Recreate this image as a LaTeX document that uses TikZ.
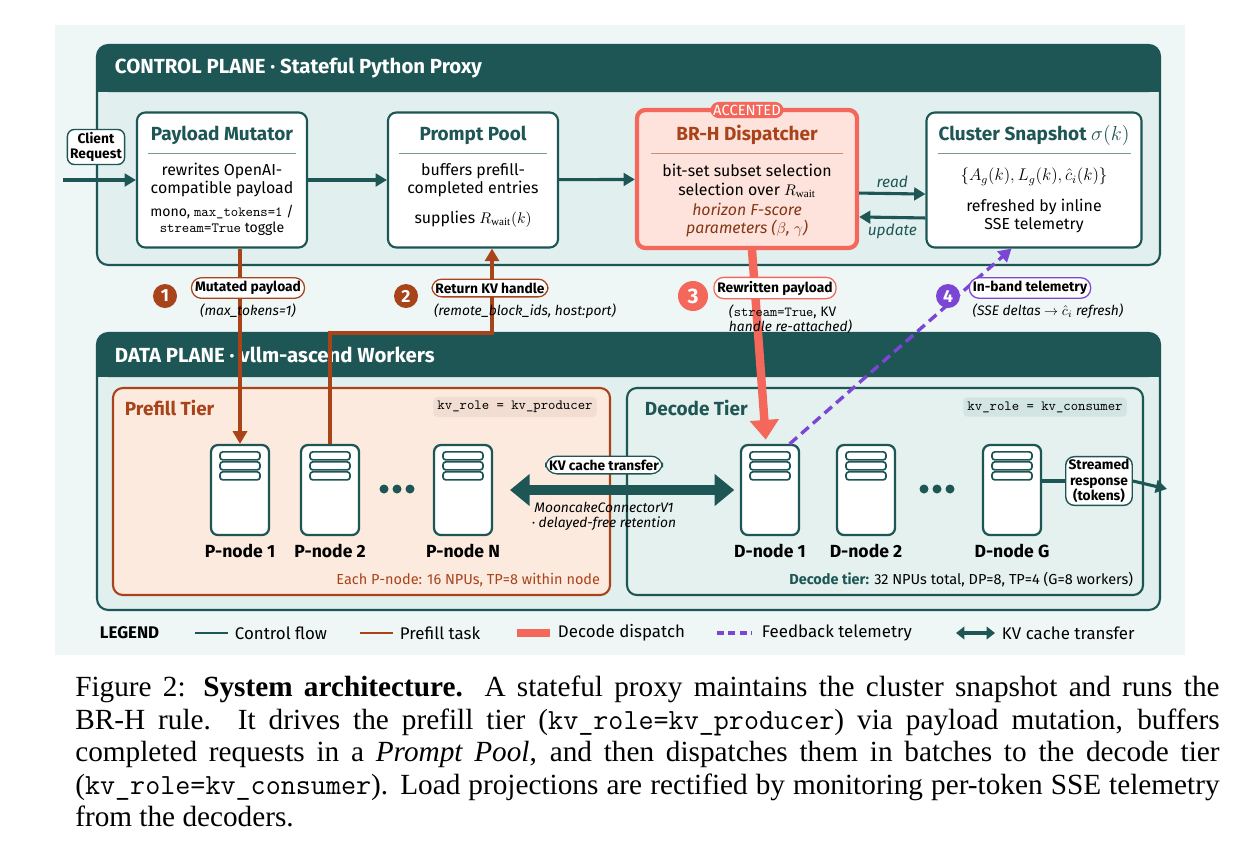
\documentclass[tikz,border=0pt]{standalone}
\usepackage{fontspec}
\setmainfont{Liberation Serif}
\newfontfamily\dsf{Fira Sans}
\usetikzlibrary{arrows.meta,positioning}
\definecolor{ctl}{HTML}{1D5654}
\definecolor{bgl}{HTML}{EFF6F6}
\definecolor{pnl}{HTML}{E1EFEF}
\definecolor{brn}{HTML}{A8431A}
\definecolor{crl}{HTML}{F4675B}
\definecolor{crlf}{HTML}{FDE3DB}
\definecolor{prp}{HTML}{7B45D6}
\definecolor{prf}{HTML}{FCEADF}
\definecolor{dcf}{HTML}{E4F1EE}
\definecolor{ptag}{HTML}{F1DDD2}
\definecolor{dtag}{HTML}{D2E5E2}
\tikzset{
  card/.style={draw=ctl,line width=1.5pt,fill=white,rounded corners=6pt,minimum width=4.25cm,minimum height=3.375cm},
  ttl/.style={font=\dsf\fontsize{13.5}{15}\selectfont\bfseries,text=ctl},
  txt/.style={font=\dsf\fontsize{11.3}{13}\selectfont,align=center},
  pill/.style={draw,line width=0.9pt,fill=white,rounded corners=7pt,font=\dsf\fontsize{9.8}{11}\selectfont\bfseries,inner sep=2.5pt},
  note/.style={font=\dsf\fontsize{9.8}{10.8}\selectfont\itshape,align=center},
  num/.style={circle,fill=#1,text=white,font=\dsf\fontsize{12.5}{12.5}\selectfont\bfseries,minimum size=0.6cm,inner sep=0pt},
  flow/.style={ctl,line width=2.2pt,-{Triangle[length=8pt,width=9pt]}},
  task/.style={brn,line width=2.2pt},
  srv/.style={draw=ctl,line width=1.6pt,fill=white,rounded corners=5pt,minimum width=1.45cm,minimum height=2.25cm},
  lbl/.style={font=\dsf\fontsize{12.5}{14}\selectfont\bfseries},
  leg/.style={anchor=west,font=\dsf\fontsize{12}{13}\selectfont},
}
\newcommand\server[2]{%
  \node[srv] (#1) at (#2) {};
  \foreach \dy in {0.3,0.55,0.8}
    \draw[ctl,line width=1.2pt,rounded corners=2pt,fill=white]
      ([xshift=-0.5cm,yshift=-\dy cm+0.1cm]#1.north) rectangle ([xshift=0.5cm,yshift=-\dy cm-0.1cm]#1.north);
}
\begin{document}
\begin{tikzpicture}[x=0.025cm,y=-0.025cm]
\useasboundingbox (0,0) rectangle (1242,863);
\fill[bgl] (55,25) rectangle (1185,655);

%% control plane
\draw[ctl,line width=1.5pt,fill=pnl,rounded corners=8pt] (97,45) rectangle (1160,265);
\fill[ctl,rounded corners=8pt] (97,45) rectangle (1160,92);
\fill[ctl] (97,75) rectangle (1160,92);
\node[anchor=west,text=white,font=\dsf\fontsize{14.5}{16}\selectfont\bfseries] at (110,68) {CONTROL PLANE · Stateful Python Proxy};

\node[draw=ctl,line width=1pt,fill=white,rounded corners=5pt,align=center,inner sep=2pt,font=\dsf\fontsize{9.8}{10.8}\selectfont\bfseries] (client) at (96,147) {Client\\Request};
\coordinate (src) at (63,180);

\node[card] (pm) at (222,180) {};
\node[ttl] at (222,135) {Payload Mutator};
\draw[ctl!60] (148,153) -- (296,153);
\node[txt] at (222,180) {rewrites OpenAI-\\compatible payload};
\node[txt,font=\dsf\fontsize{10}{11.5}\selectfont] at (222,220) {mono, \texttt{max\_tokens=1} /\\\texttt{stream=True} toggle};

\node[card] (pool) at (473,180) {};
\node[ttl] at (473,135) {Prompt Pool};
\draw[ctl!60] (399,153) -- (547,153);
\node[txt] at (473,180) {buffers prefill-\\completed entries};
\node[txt] at (473,219) {supplies $R_{\mathrm{wait}}(k)$};

\node[card,draw=crl,line width=3pt,fill=crlf,minimum width=5.5cm,minimum height=3.45cm] (brh) at (747,179) {};
\node[fill=crl,text=white,rounded corners=6pt,inner sep=2pt,font=\dsf\fontsize{10.5}{11}\selectfont] at (747,110) {ACCENTED};
\node[ttl,text=brn] at (747,135) {BR-H Dispatcher};
\draw[brn!60] (651,153) -- (843,153);
\node[txt] at (747,181) {bit-set subset selection\\selection over $R_{\mathrm{wait}}$};
\node[txt,font=\dsf\fontsize{11.3}{13}\selectfont\itshape,text=brn!80!black] at (747,220) {horizon F-score\\parameters ($\beta$, $\gamma$)};

\node[card,minimum width=5.375cm] (snap) at (1034,180) {};
\node[ttl] at (1034,135) {Cluster Snapshot $\sigma(k)$};
\draw[ctl!60] (938,153) -- (1131,153);
\node[txt,font=\dsf\fontsize{12}{13}\selectfont] at (1034,177) {$\{A_g(k), L_g(k), \hat{c}_i(k)\}$};
\node[txt] at (1034,216) {refreshed by inline\\SSE telemetry};

\draw[flow] (src) -- (pm);
\draw[flow] (pm) -- (pool);
\draw[flow] (pool) -- (brh);
\draw[flow] ([yshift=-10pt]brh.east) -- node[above,font=\dsf\fontsize{11}{12}\selectfont\itshape]{read} ([yshift=-10pt]snap.west);
\draw[flow] ([yshift=-27pt]snap.west) -- node[below,font=\dsf\fontsize{11}{12}\selectfont\itshape]{update} ([yshift=-27pt]brh.east);

%% data plane
\draw[ctl,line width=1.5pt,fill=pnl,rounded corners=8pt] (97,333) rectangle (1160,610);
\fill[ctl,rounded corners=8pt] (97,333) rectangle (1160,377);
\fill[ctl] (97,360) rectangle (1160,377);
\node[anchor=west,text=white,font=\dsf\fontsize{14.5}{16}\selectfont\bfseries] at (110,355) {DATA PLANE · vllm-ascend Workers};

\draw[brn,line width=1.5pt,fill=prf,rounded corners=7pt] (113,388) rectangle (610,595);
\node[anchor=west,text=brn,font=\dsf\fontsize{13.5}{15}\selectfont\bfseries] at (120,408) {Prefill Tier};
\node[fill=ptag,rounded corners=3pt,inner sep=3pt,font=\ttfamily\fontsize{10}{11}\selectfont] at (515,407) {kv\_role = kv\_producer};
\node[anchor=east,text=brn,font=\dsf\fontsize{10.3}{11}\selectfont] at (605,580) {Each P-node: 16 NPUs, TP=8 within node};

\draw[ctl,line width=1.5pt,fill=dcf,rounded corners=7pt] (627,388) rectangle (1143,595);
\node[anchor=west,text=ctl,font=\dsf\fontsize{13.5}{15}\selectfont\bfseries] at (640,408) {Decode Tier};
\node[fill=dtag,rounded corners=3pt,inner sep=3pt,font=\ttfamily\fontsize{10}{11}\selectfont] at (1045,407) {kv\_role = kv\_consumer};
\node[anchor=east,font=\dsf\fontsize{10.3}{11}\selectfont] at (1138,580) {\textcolor{ctl}{\bfseries Decode tier:} 32 NPUs total, DP=8, TP=4 (G=8 workers)};

\server{p1}{240,490}
\server{p2}{330,490}
\server{pn}{463,490}
\server{d1}{770,490}
\server{d2}{866,490}
\server{dg}{1012,490}
\node[lbl] at (p1|-0,551) {P-node 1};
\node[lbl] at (p2|-0,551) {P-node 2};
\node[lbl] at (pn|-0,551) {P-node N};
\node[lbl] at (d1|-0,551) {D-node 1};
\node[lbl] at (d2|-0,551) {D-node 2};
\node[lbl] at (dg|-0,551) {D-node G};
\foreach \cx in {384,397,410,924,937,950}
  \fill[ctl] (\cx,489) circle (4.5);

%% kv transfer
\draw[ctl,line width=7pt,{Triangle[length=14pt,width=22pt]}-{Triangle[length=14pt,width=22pt]}] ([xshift=12pt]pn.east) -- ([xshift=-4pt]d1.west);
\node[pill,draw=ctl,fill=white,rounded corners=8pt] at (604,465) {KV cache transfer};
\node[note] at (604,516) {MooncakeConnectorV1\\· delayed-free retention};

%% streamed response
\node[draw=ctl,line width=1pt,fill=white,rounded corners=6pt,align=center,inner sep=2pt,font=\dsf\fontsize{9.8}{10.8}\selectfont\bfseries] (resp) at (1099,481) {Streamed\\response\\(tokens)};
\coordinate (out) at (1167,489);
\draw[ctl,line width=2.2pt] (dg.east|-resp.west) -- (resp.west);
\draw[flow] (resp.east) -- (out);

%% step 1
\draw[task,-{Triangle[length=9pt,width=10pt]}] (pm.south-|p1) -- (p1.north);
\node[pill,draw=brn] at (248,288) {Mutated payload};
\node[note] at (248,311) {(max\_tokens=1)};
\node[num=brn] at (165,296) {1};

%% step 2
\draw[task,-{Triangle[length=9pt,width=10pt]}] (p2.north) |- (492,333) -- (pool.south-|492,0);
\node[pill,draw=brn] at (490,288) {Return KV handle};
\node[note] at (525,311) {(remote\_block\_ids, host:port)};
\node[num=brn] at (406,296) {2};

%% step 3
\draw[crl,line width=6pt,-{Triangle[length=14pt,width=20pt]}] (752,250) -- ([xshift=-3pt,yshift=3pt]d1.north);
\node[pill,draw=crl] at (775,288) {Rewritten payload};
\node[note,align=left,anchor=north west] at (724,300) {(\upshape\texttt{stream=True}, KV\\handle re-attached)};
\node[num=crl,minimum size=0.75cm,font=\dsf\fontsize{15}{15}\selectfont\bfseries] at (693,296) {3};

%% step 4
\draw[prp,line width=2.4pt,dash pattern=on 7pt off 4pt,-{Triangle[length=9pt,width=10pt]}] ([xshift=14pt]d1.north) -- ([xshift=-16pt]snap.south);
\node[pill,draw=prp] at (1030,288) {In-band telemetry};
\node[note] at (1048,311) {(SSE deltas $\rightarrow$ $\hat{c}_i$ refresh)};
\node[num=prp] at (948,296) {4};

%% legend
\node[leg,font=\dsf\fontsize{12}{13}\selectfont\bfseries] at (95,633) {LEGEND};
\draw[ctl,line width=2pt] (195,633) -- (228,633);
\node[leg] at (230,633) {Control flow};
\draw[brn,line width=2pt] (360,633) -- (393,633);
\node[leg] at (395,633) {Prefill task};
\draw[crl,line width=5pt] (517,633) -- (550,633);
\node[leg] at (553,633) {Decode dispatch};
\draw[prp,line width=2.4pt,dash pattern=on 5pt off 3pt] (717,633) -- (752,633);
\node[leg] at (757,633) {Feedback telemetry};
\draw[ctl,line width=3pt,{Triangle[length=6pt,width=9pt]}-{Triangle[length=6pt,width=9pt]}] (956,633) -- (995,633);
\node[leg] at (997,633) {KV cache transfer};

%% caption
\node[anchor=north west,text width=28.6cm,align=justify,inner sep=0pt,font=\fontsize{20.8}{23.1}\selectfont] at (75,676)
{Figure 2: \textbf{System architecture.} A stateful proxy maintains the cluster snapshot and runs the BR-H rule. It drives the prefill tier (\texttt{kv\_role=kv\_producer}) via payload mutation, buffers completed requests in a \textit{Prompt Pool}, and then dispatches them in batches to the decode tier (\texttt{kv\_role=kv\_consumer}). Load projections are rectified by monitoring per-token SSE telemetry from the decoders.};
\end{tikzpicture}
\end{document}
